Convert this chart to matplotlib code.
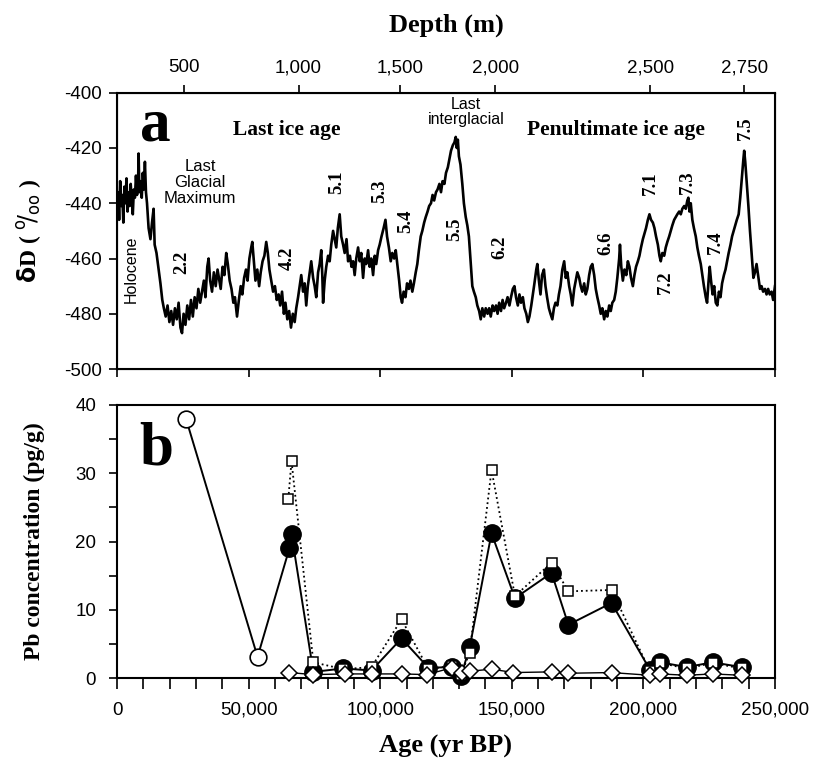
import numpy as np
import matplotlib
matplotlib.use('Agg')
import matplotlib.pyplot as plt
from matplotlib.ticker import MultipleLocator

plt.rcParams['font.family'] = 'Liberation Sans'

# ---- panel a: deuterium record (age in yr BP, dD in per mil) ----
age_dD = [0, 400, 800, 1200, 1600, 2000, 2400, 2800, 3200, 3600, 4000, 4400, 4800, 5200, 5600,
          6000, 6400, 6800, 7200, 7600, 8000, 8200, 8500, 9000, 9400, 9800, 10200, 10600, 11000, 11400,
          12000, 12700, 13300, 13900, 14300, 15000, 15800, 16500, 17200, 17800,
          18500, 19200, 19900, 20600, 21300, 22000, 22700, 23400, 24100, 24700, 25300, 26000, 26700,
          27400, 28100, 28800, 29500, 30200, 30900, 31600, 32300,
          33000, 33600, 34300, 34800, 35400, 36100, 36800, 37500, 38200, 38700, 39400, 40100, 40800,
          41500, 42100, 42800, 43500, 44200, 44800, 45600, 46300, 47000, 47600, 48300, 49000, 49600,
          50300, 51000, 51400, 52000, 52600, 53300, 54000, 54600, 55300, 56000, 56700, 57300, 57900,
          58600, 59300, 60000, 60700, 61400,
          62000, 62700, 63400, 64000, 64700, 65400, 66100, 66800, 67500, 68100, 68800, 69400, 70000,
          70700, 71300, 71900, 72500, 73200, 73800, 74500, 75100, 75700, 76400, 77000, 77600, 78000,
          78300, 78900, 79500, 80200, 80800, 81400, 82100, 82700, 83300, 83900, 84600, 85200, 85900,
          86500, 87200, 87800, 88500, 89100, 89700, 90300, 90900, 91600, 92200, 92800, 93500, 94100,
          94700, 95400, 96000, 96600, 97300, 97900, 98500, 99200, 99800, 100500, 101300, 102000,
          102600, 103300, 104000, 104600, 105300, 105900, 106500, 107200, 107800, 108300, 108900,
          109600, 110200, 110900, 111500, 112200, 112800, 113500, 114100, 114700, 115400, 116000,
          116700, 117300, 118000, 118600, 119300, 119900, 120500, 121200, 121800, 122500, 123100,
          123700, 124400, 125000, 125700, 126300, 126900, 127600, 128200, 128700, 129100, 129500,
          129900, 130500, 131200, 131800, 132500, 133100, 133700, 134400, 135000, 135600, 136300,
          136900, 137600, 138200, 138800, 139500, 140100, 140800, 141400, 142000, 142700, 143300,
          144000, 144600, 145200, 145900, 146500, 147100, 147800, 148400, 149100, 149700, 150400,
          151000, 151600, 152300, 152900, 153500, 154200, 154800, 155500, 156100, 156700, 157400,
          158000, 158600, 159300, 159700, 160300, 160900, 161500, 162200, 162800, 163400, 164100,
          164700, 165400, 166000, 166600, 167300, 167900, 168500, 169200, 169900, 170500, 171100,
          171800, 172400, 173000, 173700, 174300, 174900, 175600, 176200, 176800, 177500, 178100,
          178700, 179400, 180000, 180600, 181300, 181900, 182500, 183200, 183800, 184400, 185100,
          185700, 186300, 187000, 187600, 188200, 188900, 189500, 190100, 190800, 191100, 191600,
          192200, 192800, 193500, 194100, 194700, 195300, 196000, 196600, 197200, 197900, 198500,
          199100, 199800, 200400, 201000, 201700, 202300, 202900, 203600, 204200, 204800, 205500,
          206100, 206600, 207200, 207900, 208500, 209100, 209800, 210400, 211000, 211700, 212300,
          212900, 213600, 214200, 214800, 215500, 216100, 216700, 217100, 217500, 218000, 218600,
          219200, 219900, 220500, 221100, 221800, 222400, 223000, 223700, 224200, 224700, 225200,
          225700, 226300, 226900, 227500, 228100, 228700, 229300, 229900, 230600, 231200, 231800,
          232400, 233100, 233700, 234300, 234900, 235500, 236200, 236800, 237400, 238000, 238300,
          238700, 239300, 239900, 240500, 241200, 241800, 242400, 243000, 243700, 244300, 244900,
          245500, 246200, 246800, 247400, 248000, 248700, 249300, 250000]
dD = [-440, -436, -446, -432, -441, -437, -447, -434, -440, -431, -443, -436, -441, -433, -439,
      -444, -435, -438, -430, -437, -433, -422, -436, -432, -438, -429, -435, -425, -436, -440,
      -449, -453, -447, -442, -455, -458, -464, -469, -475, -478,
      -481, -477, -483, -479, -484, -478, -482, -476, -485, -487, -480, -484, -477,
      -482, -475, -481, -474, -478, -471, -476, -472,
      -468, -474, -463, -460, -468, -472, -465, -470, -464, -467, -471, -463, -466,
      -458, -462, -468, -471, -476, -474, -481, -475, -470, -473, -467, -464, -468,
      -460, -456, -454, -461, -468, -464, -470, -465, -461, -459, -454, -458, -464,
      -468, -472, -470, -475, -473,
      -477, -472, -480, -476, -482, -479, -485, -480, -483, -478, -474, -470, -466,
      -472, -469, -477, -470, -465, -461, -467, -470, -474, -465, -462, -457, -466,
      -476, -468, -463, -459, -461, -455, -450, -453, -456, -449, -444, -452, -455,
      -458, -453, -461, -459, -463, -461, -466, -460, -456, -461, -458, -467, -460,
      -462, -457, -463, -460, -466, -459, -462, -457, -455, -452, -449, -446,
      -452, -456, -461, -458, -460, -457, -462, -468, -474, -476, -472,
      -474, -469, -471, -468, -472, -469, -465, -462, -457, -452, -450,
      -447, -445, -443, -441, -440, -437, -439, -436, -435, -433, -436,
      -432, -433, -429, -427, -424, -421, -419, -418, -416, -420, -417,
      -423, -426, -433, -440, -445, -448, -452, -462, -470, -472, -474,
      -477, -479, -482, -478, -481, -478, -480, -478, -481, -477, -479,
      -477, -480, -476, -479, -475, -478, -476, -474, -477, -474, -471,
      -470, -474, -477, -473, -476, -474, -478, -480, -483, -481, -477,
      -473, -469, -464, -462, -468, -473, -466, -464, -470, -474, -478,
      -480, -482, -478, -476, -477, -473, -470, -464, -461, -467, -465,
      -470, -473, -477, -471, -468, -465, -467, -470, -472, -469, -473,
      -471, -466, -463, -462, -466, -471, -474, -477, -480, -478, -482,
      -479, -481, -477, -479, -476, -475, -472, -467, -460, -455, -463,
      -468, -464, -466, -461, -463, -467, -470, -466, -463, -461, -459,
      -456, -453, -451, -449, -446, -444, -446, -447, -449, -452, -455,
      -459, -461, -458, -459, -456, -454, -452, -450, -448, -446, -445,
      -444, -443, -444, -442, -441, -442, -439, -438, -443, -440, -446,
      -449, -452, -456, -459, -462, -466, -470, -474, -476, -469, -463,
      -468, -473, -470, -476, -477, -472, -474, -469, -466, -464, -461,
      -458, -455, -452, -450, -448, -446, -444, -438, -431, -424, -421,
      -425, -433, -441, -450, -459, -467, -465, -462, -467, -471, -470,
      -472, -471, -473, -471, -473, -472, -475, -470]

# depth scale on top (depth label -> age position)
depth_labels = ['500', '1,000', '1,500', '2,000', '2,500', '2,750']
depth_age = [25300, 69000, 107700, 143800, 202700, 238400]

# ---- panel b: Pb concentrations ----
open_age = [26200, 53400]
open_pb = [38.0, 3.1]

circ_age = [65500, 66300, 74600, 86000, 96700, 108100, 118300, 127300, 130700, 134000,
            142300, 151200, 165100, 171500, 187900, 202500, 206500, 216400, 226300, 237300]
circ_pb = [19.0, 21.1, 0.9, 1.4, 1.1, 5.8, 1.5, 1.6, 0.3, 4.5,
           21.2, 11.7, 15.4, 7.8, 11.0, 1.2, 2.3, 1.6, 2.3, 1.6]

sq_age = [65100, 66300, 74600, 86000, 96700, 108100, 118300, 127300, 130700, 134000,
          142300, 151200, 165100, 171500, 187900, 202500, 206500, 216400, 226300, 237300]
sq_pb = [26.3, 31.8, 2.3, 1.3, 1.6, 8.6, 1.3, 1.8, 0.5, 3.7,
         30.5, 12.0, 16.9, 12.7, 12.9, 1.0, 2.2, 1.4, 2.2, 1.4]

dia_age = [65500, 74600, 86500, 96700, 108100, 117700, 127200, 131000, 134100, 142400,
           150600, 165100, 171500, 187900, 202500, 206500, 216400, 226300, 237300]
dia_pb = [0.8, 0.5, 0.6, 0.6, 0.6, 0.5, 1.5, 0.7, 1.0, 1.3,
          0.8, 0.9, 0.7, 0.8, 0.4, 0.6, 0.4, 0.6, 0.4]

xticks = [0, 50000, 100000, 150000, 200000, 250000]
xticklabels = ['0', '50,000', '100,000', '150,000', '200,000', '250,000']

serif = 'Liberation Serif'

fig = plt.figure(figsize=(8.2, 7.65), dpi=100)
ax1 = fig.add_axes([0.1427, 0.5176, 0.8024, 0.3612])
ax2 = fig.add_axes([0.1427, 0.1137, 0.8024, 0.3569])

for ax in (ax1, ax2):
    for s in ax.spines.values():
        s.set_linewidth(1.5)
    ax.set_xlim(0, 250000)
    ax.set_xticks(xticks)
    ax.tick_params(direction='out', length=6, width=1.2, labelsize=13.5)

# panel a
ax1.plot(age_dD, dD, color='black', lw=1.9)
ax1.set_ylim(-500, -400)
ax1.set_yticks(np.arange(-500, -399, 20))
ax1.set_yticklabels(['-500', '-480', '-460', '-440', '-420', '-400'])
ax1.set_xticklabels([])
ax1.tick_params(axis='y', pad=5)
ax1.set_ylabel(r'$\mathbf{\delta}$D ( $^{\mathrm{o}}\!/_{\mathrm{oo}}$ )', family=serif, fontsize=17,
               fontweight='bold', labelpad=14)

axt = ax1.twiny()
axt.set_xlim(0, 250000)
axt.set_xticks(depth_age)
axt.set_xticklabels(depth_labels)
axt.tick_params(direction='out', length=6, width=1.2, labelsize=13.5, pad=6)
axt.set_xlabel('Depth (m)', family=serif, fontsize=19, fontweight='bold', labelpad=20)

ax1.text(14400, -412, 'a', family=serif, fontsize=44, fontweight='bold', ha='center', va='center')
ax1.text(64600, -413.5, 'Last ice age', family=serif, fontsize=15.5, fontweight='bold',
         ha='center', va='center')
ax1.text(189600, -413.5, 'Penultimate ice age', family=serif, fontsize=15.5, fontweight='bold',
         ha='center', va='center')
ax1.text(132600, -407, 'Last\ninterglacial', fontsize=11.5, ha='center', va='center', linespacing=1.0)
ax1.text(31500, -432.5, 'Last\nGlacial\nMaximum', fontsize=12, ha='center', va='center', linespacing=1.05)
ax1.text(5300, -464, 'Holocene', fontsize=11.5, rotation=90, ha='center', va='center')

stages = ['2.2', '4.2', '5.1', '5.3', '5.4', '5.5', '6.2', '6.6', '7.1', '7.2', '7.3', '7.4', '7.5']
stage_age = [24700, 64600, 83600, 99900, 109800, 128400, 145500, 185800, 202500, 208200, 216600, 227200, 238600]
stage_dD = [-461.3, -460, -432.5, -435.7, -446.6, -449.5, -456, -454.6, -432.9, -468.5, -432.5, -454.2, -413]
for lab, xa, ya in zip(stages, stage_age, stage_dD):
    ax1.text(xa, ya, lab, family=serif, fontsize=13.5, fontweight='bold', rotation=90,
             ha='center', va='center')

# panel b
ax2.plot(open_age + circ_age, open_pb + circ_pb, color='black', lw=1.4, zorder=2)
ax2.plot(open_age, open_pb, 'o', ms=12, mfc='white', mec='black', mew=1.2, zorder=3, clip_on=False)
ax2.plot(circ_age, circ_pb, 'o', ms=12.5, mfc='black', mec='black', zorder=3, clip_on=False)
ax2.plot(sq_age, sq_pb, ls=':', color='black', lw=1.3, marker='s', ms=7,
         mfc='white', mec='black', mew=1.1, zorder=4, clip_on=False)
ax2.plot(dia_age, dia_pb, ls='-', color='black', lw=1.0, marker='D', ms=8,
         mfc='white', mec='black', mew=1.1, zorder=5, clip_on=False)
ax2.set_ylim(0, 40)
ax2.set_yticks([0, 10, 20, 30, 40])
ax2.yaxis.set_minor_locator(MultipleLocator(5))
ax2.xaxis.set_minor_locator(MultipleLocator(10000))
ax2.tick_params(axis='x', which='both', length=8, pad=9)
ax2.tick_params(axis='y', which='both', length=6, pad=9)
ax2.tick_params(which='minor', direction='out', width=1.2)
ax2.set_xticklabels(xticklabels)
ax2.set_ylabel('Pb concentration (pg/g)', family=serif, fontsize=17, fontweight='bold', labelpad=22)
ax2.set_xlabel('Age (yr BP)', family=serif, fontsize=19, fontweight='bold', labelpad=12)
ax2.text(15000, 33.5, 'b', family=serif, fontsize=44, fontweight='bold', ha='center', va='center')

fig.savefig('out.png', dpi=100)
